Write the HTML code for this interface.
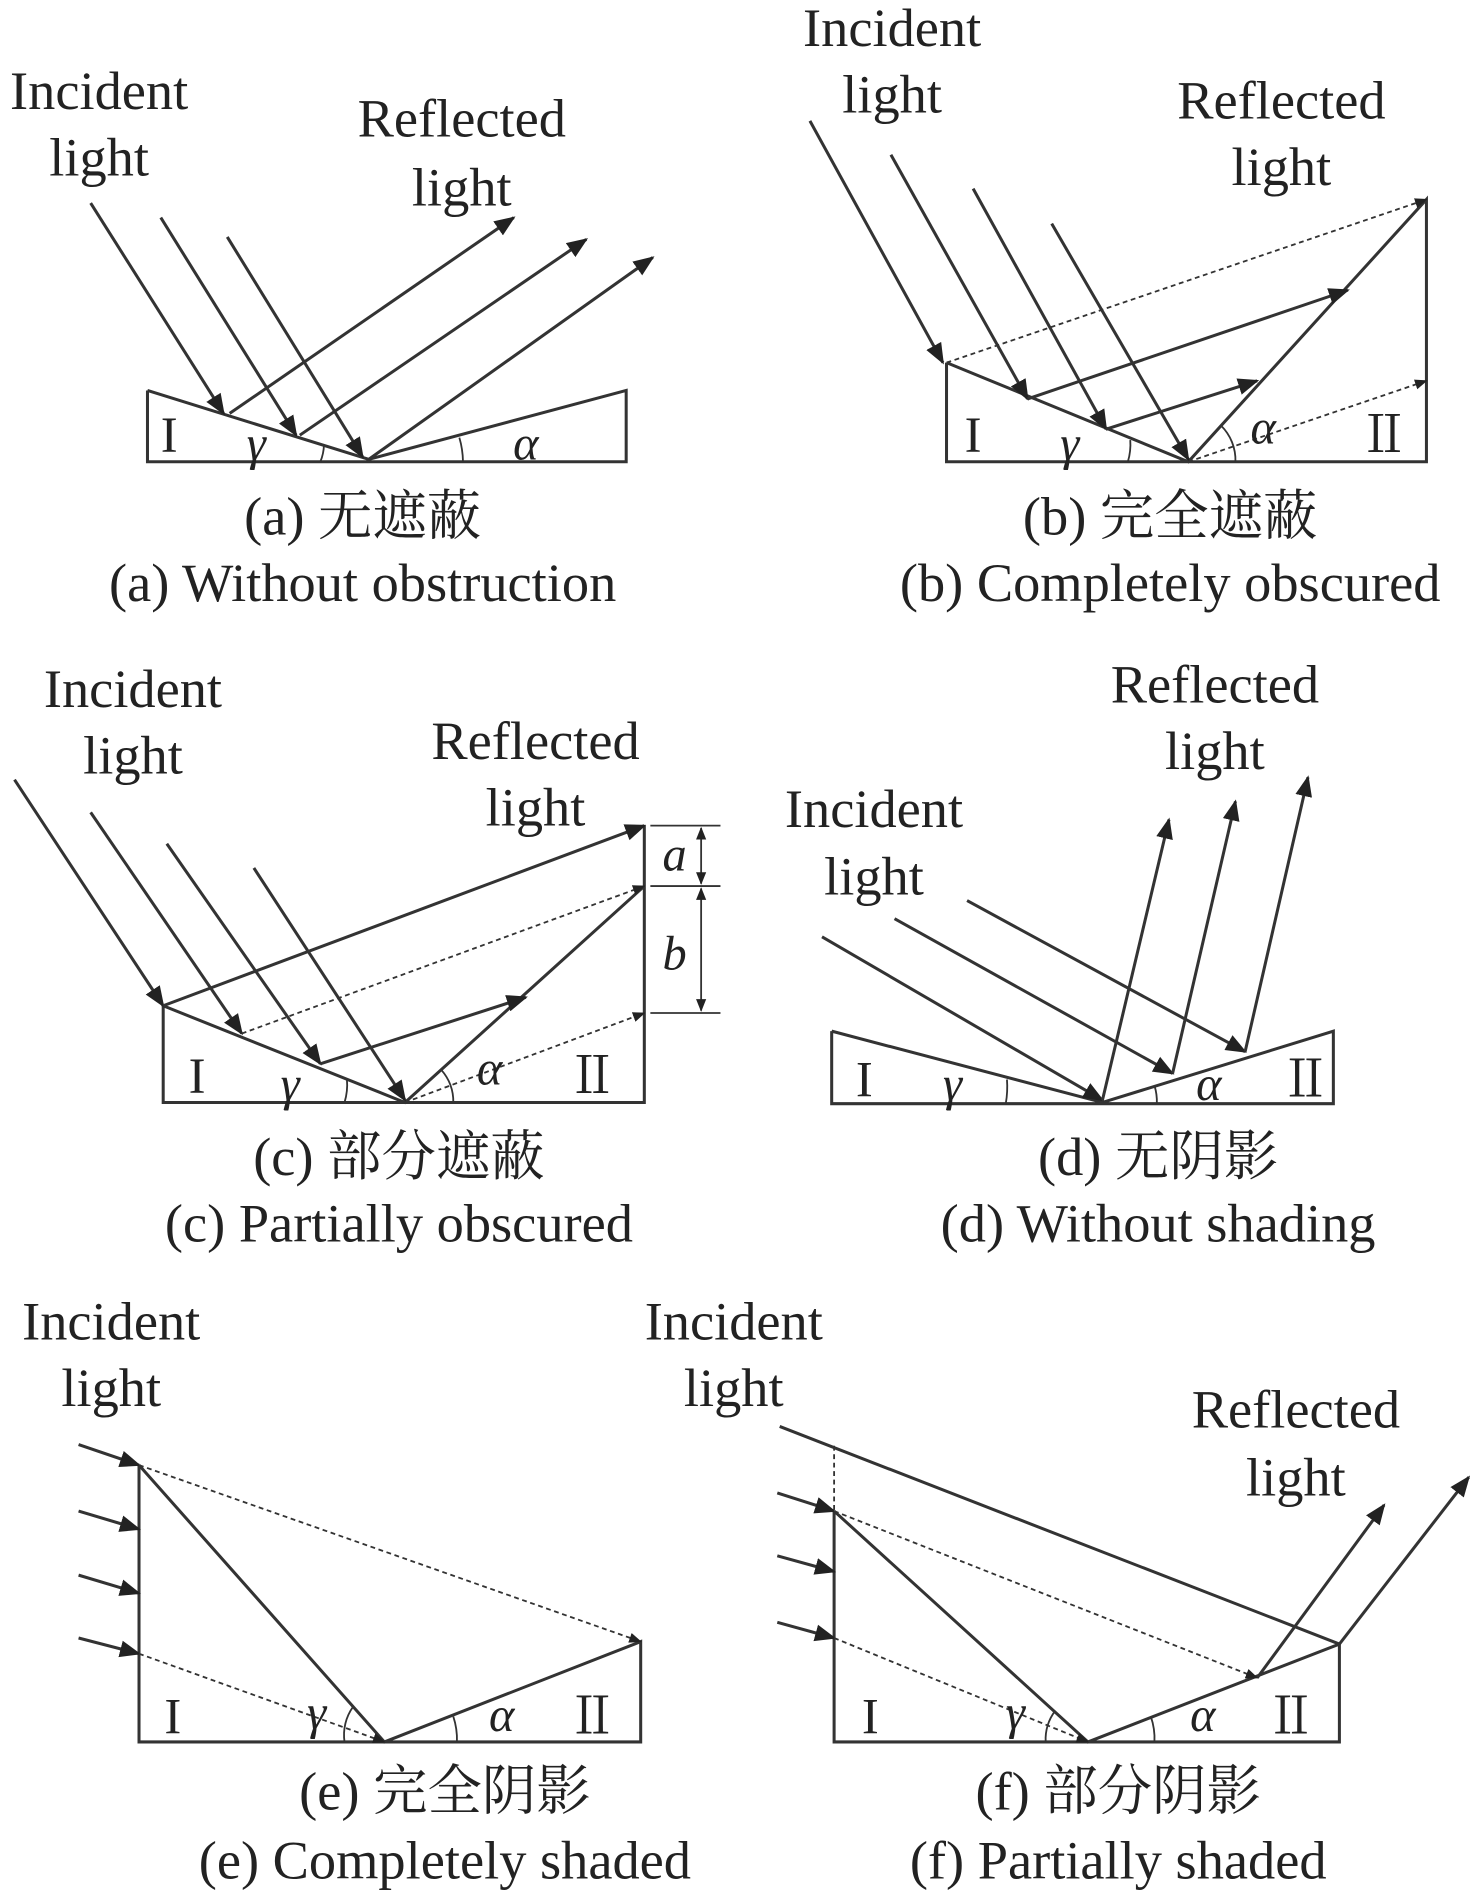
<!DOCTYPE html>
<html><head><meta charset="utf-8"><style>
html,body{margin:0;padding:0;background:#fff}
svg{display:block}
text{font-family:"Liberation Serif","Noto Serif CJK SC",serif;fill:#222;text-anchor:middle}
.l{font-size:45px}
.c{font-size:45px}
.g{font-size:40px;font-style:italic}
.r{font-size:42px}
</style></head><body>
<svg width="1476" height="1891" viewBox="0 0 1221 1564.3" xmlns="http://www.w3.org/2000/svg">
<defs>
<marker id="ar" viewBox="0 0 10 10" refX="9" refY="5" markerWidth="7" markerHeight="7" orient="auto-start-reverse"><path d="M0,1 L10,5 L0,9 z" fill="#222"/></marker>
</defs>
<g stroke="#333" stroke-width="2.5" fill="none">
<polyline points="122,323 122,382 518,382 518,323 305,380 122,323"/>
<g marker-end="url(#ar)">
<line x1="75" y1="168" x2="185" y2="342"/><line x1="133" y1="180" x2="245" y2="360"/><line x1="188" y1="196" x2="300" y2="378"/>
<line x1="190" y1="342" x2="425" y2="180"/><line x1="248" y1="360" x2="485" y2="198"/><line x1="305" y1="380" x2="540" y2="213"/>
</g>
<path d="M268,368 A40,40 0 0 1 265,382" stroke-width="1.5"/><path d="M380,362 A75,75 0 0 1 383,382" stroke-width="1.5"/>
<polyline points="783,300 783,382 1180,382 1180,165 983,382 783,300"/>
<g marker-end="url(#ar)">
<line x1="670" y1="100" x2="780" y2="300"/><line x1="737" y1="128" x2="850" y2="330"/><line x1="805" y1="156" x2="915" y2="355"/><line x1="870" y1="185" x2="983" y2="380"/>
<line x1="850" y1="330" x2="1115" y2="240"/><line x1="915" y1="355" x2="1040" y2="315"/>
</g>
<g stroke-dasharray="4,3" stroke-width="1.5">
<line x1="783" y1="300" x2="1180" y2="165" marker-end="url(#ar)"/><line x1="983" y1="382" x2="1180" y2="315" marker-end="url(#ar)"/>
</g>
<path d="M935,364 A50,50 0 0 1 933,382" stroke-width="1.5"/><path d="M1010,352 A40,40 0 0 1 1022,382" stroke-width="1.5"/>
<polyline points="135,832 135,912 533,912 533,683 533,733 335,912 135,832"/>
<g marker-end="url(#ar)">
<line x1="12" y1="645" x2="135" y2="832"/><line x1="75" y1="672" x2="200" y2="855"/><line x1="138" y1="698" x2="265" y2="880"/><line x1="210" y1="718" x2="335" y2="910"/>
<line x1="135" y1="832" x2="533" y2="683"/><line x1="265" y1="880" x2="435" y2="825"/>
</g>
<g stroke-dasharray="4,3" stroke-width="1.5">
<line x1="200" y1="855" x2="533" y2="733" marker-end="url(#ar)"/><line x1="335" y1="912" x2="533" y2="838" marker-end="url(#ar)"/>
</g>
<g stroke-width="1.5">
<line x1="538" y1="683" x2="596" y2="683"/><line x1="538" y1="733" x2="596" y2="733"/><line x1="538" y1="838" x2="596" y2="838"/>
<line x1="580" y1="685" x2="580" y2="731" marker-start="url(#ar)" marker-end="url(#ar)"/>
<line x1="580" y1="735" x2="580" y2="836" marker-start="url(#ar)" marker-end="url(#ar)"/>
</g>
<path d="M287,893 A50,50 0 0 1 285,912" stroke-width="1.5"/><path d="M365,885 A40,40 0 0 1 375,912" stroke-width="1.5"/>
<polyline points="688,853 688,913 1103,913 1103,853 912,912 688,853"/>
<g marker-end="url(#ar)">
<line x1="680" y1="775" x2="912" y2="910"/><line x1="740" y1="760" x2="970" y2="888"/><line x1="800" y1="745" x2="1030" y2="870"/>
<line x1="912" y1="910" x2="967" y2="678"/><line x1="970" y1="888" x2="1022" y2="663"/><line x1="1030" y1="870" x2="1082" y2="643"/>
</g>
<path d="M833,893 A80,80 0 0 1 832,913" stroke-width="1.5"/><path d="M955,898 A45,45 0 0 1 957,913" stroke-width="1.5"/>
<polyline points="115,1212 115,1441 530,1441 530,1358 318,1441 115,1212"/>
<g marker-end="url(#ar)">
<line x1="65" y1="1195" x2="115" y2="1212"/><line x1="65" y1="1250" x2="115" y2="1265"/><line x1="65" y1="1303" x2="115" y2="1318"/><line x1="65" y1="1355" x2="115" y2="1368"/>
</g>
<g stroke-dasharray="4,3" stroke-width="1.5">
<line x1="115" y1="1212" x2="530" y2="1358" marker-end="url(#ar)"/><line x1="115" y1="1368" x2="318" y2="1441" marker-end="url(#ar)"/>
</g>
<path d="M292,1412 A40,40 0 0 0 285,1441" stroke-width="1.5"/><path d="M375,1420 A60,60 0 0 1 378,1441" stroke-width="1.5"/>
<polyline points="690,1250 690,1441 1108,1441 1108,1360 900,1441 690,1250"/>
<line x1="690" y1="1196" x2="690" y2="1250" stroke-dasharray="4,3" stroke-width="1.5"/>
<line x1="645" y1="1180" x2="1108" y2="1360"/>
<g marker-end="url(#ar)">
<line x1="643" y1="1235" x2="690" y2="1250"/><line x1="643" y1="1287" x2="690" y2="1300"/><line x1="643" y1="1342" x2="690" y2="1355"/>
<line x1="1040" y1="1388" x2="1145" y2="1245"/><line x1="1108" y1="1360" x2="1215" y2="1222"/>
</g>
<g stroke-dasharray="4,3" stroke-width="1.5">
<line x1="690" y1="1250" x2="1040" y2="1388" marker-end="url(#ar)"/><line x1="690" y1="1355" x2="900" y2="1441" marker-end="url(#ar)"/>
</g>
<path d="M873,1415 A40,40 0 0 0 865,1441" stroke-width="1.5"/><path d="M952,1420 A55,55 0 0 1 955,1441" stroke-width="1.5"/>
</g>
<text class="l" x="82" y="90">Incident</text><text class="l" x="82" y="145">light</text>
<text class="l" x="382" y="113">Reflected</text><text class="l" x="382" y="170">light</text>
<text class="r" x="140" y="374">I</text><text class="g" x="212" y="380">γ</text><text class="g" x="435" y="380">α</text>
<text class="c" x="300" y="442">(a) 无遮蔽</text><text class="c" x="300" y="497">(a) Without obstruction</text>

<text class="l" x="738" y="38">Incident</text><text class="l" x="738" y="93">light</text>
<text class="l" x="1060" y="98">Reflected</text><text class="l" x="1060" y="153">light</text>
<text class="r" x="805" y="374">I</text><text class="g" x="885" y="380">γ</text><text class="g" x="1045" y="367">α</text><text class="r" x="1145" y="374">Ⅱ</text>
<text class="c" x="968" y="442">(b) 完全遮蔽</text><text class="c" x="968" y="497">(b) Completely obscured</text>

<text class="l" x="110" y="585">Incident</text><text class="l" x="110" y="640">light</text>
<text class="l" x="443" y="628">Reflected</text><text class="l" x="443" y="683">light</text>
<text class="g" x="558" y="720">a</text><text class="g" x="558" y="802">b</text>
<text class="r" x="163" y="904">I</text><text class="g" x="240" y="910">γ</text><text class="g" x="405" y="897">α</text><text class="r" x="490" y="904">Ⅱ</text>
<text class="c" x="330" y="972">(c) 部分遮蔽</text><text class="c" x="330" y="1027">(c) Partially obscured</text>

<text class="l" x="1005" y="581">Reflected</text><text class="l" x="1005" y="636">light</text>
<text class="l" x="723" y="684">Incident</text><text class="l" x="723" y="740">light</text>
<text class="r" x="715" y="907">I</text><text class="g" x="788" y="910">γ</text><text class="g" x="1000" y="910">α</text><text class="r" x="1080" y="907">Ⅱ</text>
<text class="c" x="958" y="972">(d) 无阴影</text><text class="c" x="958" y="1027">(d) Without shading</text>

<text class="l" x="92" y="1108">Incident</text><text class="l" x="92" y="1163">light</text>
<text class="r" x="143" y="1434">I</text><text class="g" x="262" y="1430">γ</text><text class="g" x="415" y="1432">α</text><text class="r" x="490" y="1434">Ⅱ</text>
<text class="c" x="368" y="1497">(e) 完全阴影</text><text class="c" x="368" y="1554">(e) Completely shaded</text>

<text class="l" x="607" y="1108">Incident</text><text class="l" x="607" y="1163">light</text>
<text class="l" x="1072" y="1181">Reflected</text><text class="l" x="1072" y="1237">light</text>
<text class="r" x="720" y="1434">I</text><text class="g" x="840" y="1430">γ</text><text class="g" x="995" y="1432">α</text><text class="r" x="1068" y="1434">Ⅱ</text>
<text class="c" x="925" y="1497">(f) 部分阴影</text><text class="c" x="925" y="1554">(f) Partially shaded</text>
</svg>
</body></html>
